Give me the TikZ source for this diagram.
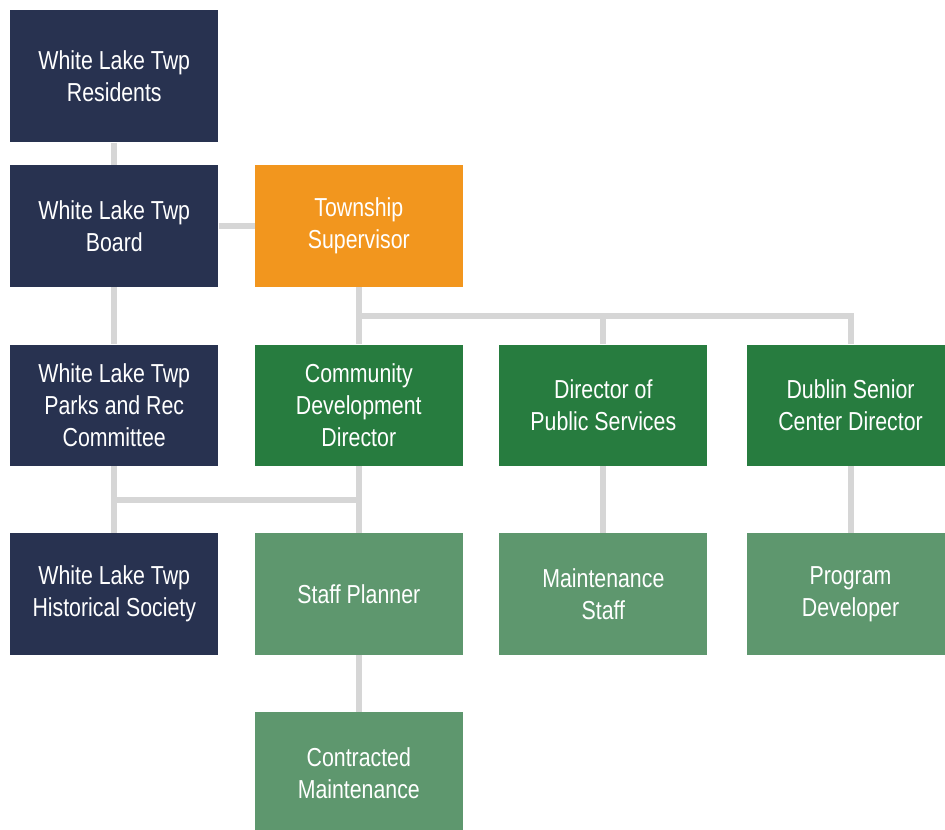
\documentclass[tikz,border=0pt]{standalone}
\usepackage{fontspec}
\setmainfont[FakeStretch=0.82]{Liberation Sans}
\usetikzlibrary{positioning,calc}

\definecolor{navy}{HTML}{283250}
\definecolor{amber}{HTML}{F2961E}
\definecolor{darkgreen}{HTML}{277C3F}
\definecolor{sage}{HTML}{5E976E}
\definecolor{linegray}{HTML}{D6D6D6}

\begin{document}
\begin{tikzpicture}[node distance=27pt]
	  \tikzstyle{unit}=[rectangle, minimum width=156pt, minimum height=91pt, inner sep=0pt, align=center, text=white, font=\fontsize{19.5pt}{24pt}\selectfont]
	  \tikzstyle{civic}=[unit, fill=navy]
	  \tikzstyle{head}=[unit, fill=amber]
	  \tikzstyle{dept}=[unit, fill=darkgreen]
	  \tikzstyle{crew}=[unit, fill=sage]
	  \tikzstyle{link}=[draw=linegray, line width=4.5pt]

	  \useasboundingbox (0,0) rectangle (708.75pt,-621.75pt);

	  \node[civic, minimum height=99pt, anchor=north west] (res) at (7.5pt,-7.5pt) {White Lake Twp\\Residents};
	  \node[civic] (board) [below=17pt of res] {White Lake Twp\\Board};
	  \node[head] (sup) [right=of board] {Township\\Supervisor};
	  \node[civic] (parks) [below=43pt of board] {White Lake Twp\\Parks and Rec\\Committee};
	  \node[civic] (hist) [below=50pt of parks] {White Lake Twp\\Historical Society};
	  \node[dept] (cdd) [right=of parks] {Community\\Development\\Director};
	  \node[dept] (dps) [right=of cdd] {Director of\\Public Services};
	  \node[dept] (dub) [right=29pt of dps] {Dublin Senior\\Center Director};
	  \node[crew] (planner) [right=of hist] {Staff Planner};
	  \node[crew] (maint) [below=50pt of dps] {Maintenance\\Staff};
	  \node[crew] (prog) [below=50pt of dub] {Program\\Developer};
	  \node[crew] (contract) [below=43pt of planner] {Contracted\\Maintenance};

	  \coordinate (topbus) at ($(sup.south)!0.5!(cdd.north)$);
	  \coordinate (lowbus) at ($(parks.south)!0.5!(hist.north)$);

	  \path[link] (res) -- (board)
	  (board.east) -- (sup.west)
	  (board.south) -- (parks.north)
	  (sup.south) -- (cdd.north)
	  (topbus) -| (dps.north)
	  (topbus) -| (dub.north)
	  (parks.south) -- (hist.north)
	  (cdd.south) -- (planner.north)
	  (lowbus) -| (cdd.south)
	  (dps.south) -- (maint.north)
	  (dub.south) -- (prog.north)
	  (planner.south) -- (contract.north);
	\end{tikzpicture}
\end{document}
